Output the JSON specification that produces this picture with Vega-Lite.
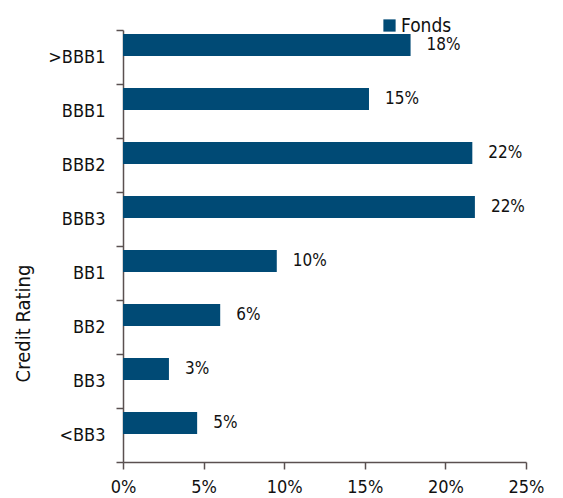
{
  "$schema": "https://vega.github.io/schema/vega-lite/v6.json",
  "autosize": "none",
  "width": 403,
  "height": 432,
  "padding": {"left": 123, "top": 30, "right": 37, "bottom": 36},
  "background": "white",
  "config": {
    "view": {"stroke": null},
    "font": "DejaVu Sans Condensed"
  },
  "data": {
    "values": [
      {"rating": ">BBB1", "value": 0.1784, "series": "Fonds"},
      {"rating": "BBB1", "value": 0.1526, "series": "Fonds"},
      {"rating": "BBB2", "value": 0.2167, "series": "Fonds"},
      {"rating": "BBB3", "value": 0.2183, "series": "Fonds"},
      {"rating": "BB1", "value": 0.0954, "series": "Fonds"},
      {"rating": "BB2", "value": 0.0603, "series": "Fonds"},
      {"rating": "BB3", "value": 0.0285, "series": "Fonds"},
      {"rating": "<BB3", "value": 0.046, "series": "Fonds"}
    ]
  },
  "encoding": {
    "y": {
      "field": "rating",
      "type": "nominal",
      "sort": null,
      "title": "Credit Rating",
      "scale": {"paddingInner": 0, "paddingOuter": 0},
      "axis": {
        "tickBand": "extent",
        "domainColor": "#5a5050",
        "tickColor": "#5a5050",
        "domainWidth": 1.5,
        "tickWidth": 1.5,
        "tickSize": 7,
        "labelFontSize": 18,
        "labelColor": "#111111",
        "labelPadding": 11,
        "titleFontSize": 20,
        "titleFontWeight": "normal",
        "titleColor": "#111111",
        "titleX": -90,
        "titleY": 293,
        "titleAngle": -90,
        "titleBaseline": "bottom"
      }
    },
    "yOffset": {
      "field": "series",
      "type": "nominal",
      "scale": {"domain": ["Fonds", "_"], "paddingInner": 0.0833, "paddingOuter": 0.1667}
    },
    "x": {
      "field": "value",
      "type": "quantitative",
      "title": null,
      "scale": {"domain": [0, 0.25], "nice": false},
      "axis": {
        "format": ".0%",
        "values": [0, 0.05, 0.1, 0.15, 0.2, 0.25],
        "grid": false,
        "labelFlush": false,
        "domainColor": "#5a5050",
        "tickColor": "#5a5050",
        "domainWidth": 1.5,
        "tickWidth": 1.5,
        "tickSize": 7,
        "labelFontSize": 18,
        "labelColor": "#111111",
        "labelPadding": 9
      }
    }
  },
  "layer": [
    {
      "mark": {"type": "bar", "color": "#004a75"},
      "encoding": {
        "color": {
          "field": "series",
          "type": "nominal",
          "scale": {"range": ["#004a75"]},
          "legend": {
            "title": null,
            "orient": "none",
            "legendX": 257,
            "legendY": -14,
            "symbolType": "square",
            "symbolSize": 150,
            "symbolStrokeWidth": 0,
            "labelFontSize": 19,
            "labelColor": "#111111",
            "labelOffset": 2
          }
        }
      }
    },
    {
      "mark": {"type": "text", "align": "left", "baseline": "middle", "dx": 16, "fontSize": 17, "color": "#111111"},
      "encoding": {
        "text": {"field": "value", "type": "quantitative", "format": ".0%"}
      }
    }
  ]
}
